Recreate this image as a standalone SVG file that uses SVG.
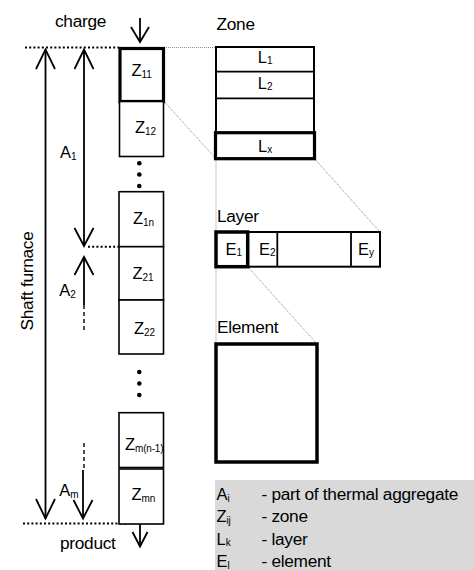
<svg xmlns="http://www.w3.org/2000/svg" width="474" height="570" viewBox="0 0 474 570">
  <style>
    text { font-family: "Liberation Sans", Arial, sans-serif; fill: #000; }
    .lbl { font-size: 17.3px; letter-spacing: -0.3px; }
    .zl { font-size: 16.5px; }
    .sub { font-size: 10px; letter-spacing: -0.2px; }
    .box { fill: #fff; stroke: #000; stroke-width: 1.6; }
    .thick { fill: none; stroke: #000; stroke-width: 3.2; }
    .line { fill: none; stroke: #000; stroke-width: 1.8; }
    .head { fill: none; stroke: #000; stroke-width: 1.8; stroke-linejoin: miter; }
    .dash { fill: none; stroke: #000; stroke-width: 1.4; stroke-dasharray: 4 3; }
    .level { fill: none; stroke: #000; stroke-width: 2; stroke-dasharray: 2 2.2; }
    .zoomline { fill: none; stroke: #8c8c8c; stroke-width: 1; stroke-dasharray: 1 1; }
  </style>

  <!-- level lines and zoom guides -->
  <g id="connectors">
    <line class="level" x1="25" y1="47.5" x2="119" y2="47.5"/>
    <line class="level" x1="88" y1="246.7" x2="119" y2="246.7"/>
    <line class="level" x1="23" y1="523.5" x2="126" y2="523.5"/>

    <line class="zoomline" x1="164" y1="47.5" x2="216" y2="47.5"/>
    <line class="zoomline" x1="164" y1="101.5" x2="216" y2="158.7"/>
    <line class="zoomline" x1="216" y1="158.7" x2="216" y2="232"/>
    <line class="zoomline" x1="314.5" y1="158.7" x2="380" y2="232"/>
    <line class="zoomline" x1="216" y1="266.7" x2="216" y2="344"/>
    <line class="zoomline" x1="247.7" y1="266.7" x2="317" y2="344"/>

    <!-- shaft furnace span -->
    <line class="line" x1="45.5" y1="49.5" x2="45.5" y2="518.5"/>
    <polyline class="head" points="36,69 45.5,49.5 55,69"/>
    <polyline class="head" points="36,499 45.5,518.5 55,499"/>

    <!-- A1 span -->
    <line class="line" x1="84" y1="49.5" x2="84" y2="246"/>
    <polyline class="head" points="74.5,69 84,49.5 93.5,69"/>
    <polyline class="head" points="74.5,228 84,246 93.5,228"/>

    <!-- A2 -->
    <line class="line" x1="84" y1="257" x2="84" y2="305"/>
    <line class="dash" x1="84" y1="305" x2="84" y2="331"/>
    <polyline class="head" points="74.5,275 84,257 93.5,275"/>

    <!-- Am -->
    <line class="dash" x1="84" y1="443" x2="84" y2="470"/>
    <line class="line" x1="83" y1="470" x2="83" y2="518.5"/>
    <polyline class="head" points="73.5,500 83,518.5 92.5,500"/>

    <!-- charge / product -->
    <line class="line" x1="140" y1="18" x2="140" y2="42"/>
    <polyline class="head" points="131,27 140,42 149,27"/>
    <line class="line" x1="140" y1="524" x2="140" y2="546.5"/>
    <polyline class="head" points="132.5,532 140,546.5 147.5,532"/>
  </g>

  <g id="labels">
    <text class="lbl" x="55" y="27">charge</text>
    <text class="lbl" x="60" y="549">product</text>
    <text class="lbl" transform="translate(32.5,281) rotate(-90)" text-anchor="middle">Shaft furnace</text>
    <text class="zl" x="60" y="158">A<tspan class="sub" dy="1.5">1</tspan></text>
    <text class="zl" x="59.3" y="296">A<tspan class="sub" dy="1.5">2</tspan></text>
    <text class="zl" x="59.3" y="496">A<tspan class="sub" dy="1.5">m</tspan></text>
  </g>

  <!-- column of zones -->
  <g id="z11">
    <rect class="box" x="120" y="48.5" width="43.5" height="53" style="stroke-width:3.2"/>
    <text class="zl" x="131.5" y="76">Z<tspan class="sub" dy="1.5">11</tspan></text>
  </g>
  <g id="z12">
    <rect class="box" x="119.5" y="101.5" width="44" height="55"/>
    <text class="zl" x="135" y="133">Z<tspan class="sub" dy="1.5">12</tspan></text>
  </g>
  <g id="dots-1">
    <circle cx="139.3" cy="163.3" r="2.3"/>
    <circle cx="139.3" cy="174.5" r="2.3"/>
    <circle cx="139.3" cy="186" r="2.3"/>
  </g>
  <g id="z1n">
    <rect class="box" x="119" y="191.7" width="44.5" height="55"/>
    <text class="zl" x="133" y="224">Z<tspan class="sub" dy="1.5">1n</tspan></text>
  </g>
  <g id="z21">
    <rect class="box" x="119" y="246.7" width="44.5" height="53.3"/>
    <text class="zl" x="132.5" y="279">Z<tspan class="sub" dy="1.5">21</tspan></text>
  </g>
  <g id="z22">
    <rect class="box" x="119" y="300" width="44.5" height="54"/>
    <text class="zl" x="134" y="334">Z<tspan class="sub" dy="1.5">22</tspan></text>
  </g>
  <g id="dots-2">
    <circle cx="139.3" cy="372" r="2.3"/>
    <circle cx="139.3" cy="383.5" r="2.3"/>
    <circle cx="139.3" cy="395" r="2.3"/>
  </g>
  <g id="zmn-1">
    <rect class="box" x="119" y="412.7" width="44.5" height="54.8"/>
    <text class="zl" x="125" y="450">Z<tspan class="sub" dy="1.5">m(n-1)</tspan></text>
  </g>
  <g id="zmn">
    <rect class="box" x="119" y="469" width="44.5" height="55"/>
    <text class="zl" x="131.5" y="500">Z<tspan class="sub" dy="1.5">mn</tspan></text>
  </g>

  <!-- zone detail -->
  <g id="zone">
    <text class="lbl" x="216.5" y="30">Zone</text>
    <rect class="box" x="216" y="47" width="98" height="111.7" style="stroke-width:2"/>
    <line class="line" x1="216" y1="71.7" x2="314" y2="71.7"/>
    <line class="line" x1="216" y1="98.3" x2="314" y2="98.3"/>
    <rect class="thick" x="215.5" y="132.7" width="99" height="26"/>
    <text class="zl" x="265" y="63.3" text-anchor="middle">L<tspan class="sub" dy="1">1</tspan></text>
    <text class="zl" x="265" y="89.3" text-anchor="middle">L<tspan class="sub" dy="1">2</tspan></text>
    <text class="zl" x="265" y="151.7" text-anchor="middle">L<tspan class="sub" dy="1">x</tspan></text>
  </g>

  <!-- layer detail -->
  <g id="layer">
    <text class="lbl" x="217" y="222">Layer</text>
    <rect class="box" x="216" y="232" width="164" height="34.7" style="stroke-width:2"/>
    <line class="line" x1="277.3" y1="232" x2="277.3" y2="266.7"/>
    <line class="line" x1="351" y1="232" x2="351" y2="266.7"/>
    <rect class="thick" x="216" y="232" width="31.7" height="34.7" style="stroke-width:3.5"/>
    <text class="zl" x="225.5" y="255">E<tspan class="sub" dy="1">1</tspan></text>
    <text class="zl" x="259" y="255">E<tspan class="sub" dy="1">2</tspan></text>
    <text class="zl" x="358" y="255">E<tspan class="sub" dy="1">y</tspan></text>
  </g>

  <!-- element detail -->
  <g id="element">
    <text class="lbl" x="217" y="333">Element</text>
    <rect class="thick" x="216" y="344" width="101" height="118" style="stroke-width:3.5"/>
  </g>

  <!-- legend -->
  <g id="legend">
    <rect x="215" y="480" width="259" height="90" fill="#d9d9d9"/>
    <text class="zl" x="216.5" y="500">A<tspan class="sub" dy="1.5">i</tspan></text>
    <text class="zl" x="216.5" y="522">Z<tspan class="sub" dy="1.5">ij</tspan></text>
    <text class="zl" x="216.5" y="544.5">L<tspan class="sub" dy="1.5">k</tspan></text>
    <text class="zl" x="216.5" y="567">E<tspan class="sub" dy="1.5">l</tspan></text>
    <text class="lbl" x="261.5" y="500">- part of thermal aggregate</text>
    <text class="lbl" x="261.5" y="522">- zone</text>
    <text class="lbl" x="261.5" y="544.5">- layer</text>
    <text class="lbl" x="261.5" y="567">- element</text>
  </g>
</svg>
